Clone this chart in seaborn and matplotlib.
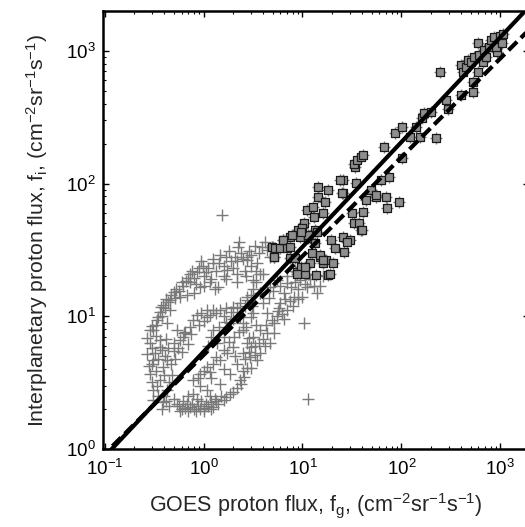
import numpy as np
import pandas as pd
import matplotlib
matplotlib.use("Agg")
import matplotlib.pyplot as plt
import seaborn as sns
from matplotlib.ticker import LogLocator, NullFormatter

# ---------------- data ----------------
# GOES flux (x) and interplanetary flux (y) for the low-flux '+' points
plus_goes = [
    # upper arm
    0.29, 0.31, 0.34, 0.36, 0.39, 0.43, 0.46, 0.46, 0.50, 0.54, 0.58, 0.63, 0.73, 0.73,
    0.93, 1.26, 1.41, 1.48, 1.73, 2.1, 2.2, 2.25, 2.75, 2.75, 3.5, 4.4, 3.2, 4.0,
    0.33, 0.38, 0.41, 0.44, 0.52, 0.56, 0.62, 0.66, 0.80, 0.86, 1.0, 1.1, 1.2, 1.35,
    1.6, 1.9, 2.4, 3.0, 3.6, 5.0, 0.68, 0.84, 1.15, 1.6, 2.0, 2.6, 3.0, 4.7,
    0.30, 0.35, 0.37, 0.42, 0.47, 0.53, 0.60, 0.70, 0.76, 0.90, 0.98, 1.05, 1.25, 1.45,
    1.7, 1.8, 2.2, 2.5, 2.9, 3.3, 3.9, 4.2, 2.3, 0.95, 0.80, 1.0, 1.3, 1.7, 2.2, 2.7, 3.4,
    # outliers
    1.54, 11.4, 10.3,
    # left column
    0.29, 0.36, 0.50, 0.31, 0.39, 0.29, 0.36, 0.31, 0.43, 0.31, 0.39, 0.36, 0.32, 0.28,
    0.34, 0.40, 0.45, 0.30, 0.33, 0.41, 0.47,
    0.27, 0.30, 0.33, 0.35, 0.38, 0.42, 0.44, 0.30, 0.27, 0.35, 0.40, 0.48, 0.52,
    # bottom
    0.45, 0.54, 0.60, 0.65, 0.73, 0.80, 0.88, 1.0, 1.1, 1.26, 1.4, 1.6, 1.86, 2.2,
    2.55, 2.75, 2.97, 0.50, 0.62, 0.70, 0.85, 0.95, 1.15, 1.3,
    0.38, 0.42, 0.57, 0.68, 0.76, 0.92, 1.05, 1.2, 1.35, 1.5, 1.7, 2.0, 2.4, 0.58,
    0.70, 0.84, 1.0, 1.18,
    # inner arc
    0.43, 0.50, 0.58, 0.65, 0.73, 0.79, 0.85, 0.95, 1.09, 1.09, 1.25, 1.48, 1.7, 2.0,
    2.35, 2.75, 2.75, 3.2, 3.75, 3.75, 0.55, 0.62,
    0.60, 0.70, 0.75, 0.90, 1.0, 1.15, 1.35, 1.6, 1.9, 2.2, 2.6, 3.0, 3.4,
    # middle band
    0.79, 0.93, 1.09, 1.26, 1.48, 1.73, 2.0, 1.26, 1.6, 1.86, 2.35, 1.37, 2.5, 2.5,
    3.0, 0.79, 1.09, 1.48, 1.86, 2.2, 2.5, 0.93, 1.2, 1.6, 2.1,
    0.88, 1.0, 1.15, 1.35, 1.6, 1.8, 2.05, 2.3, 2.7, 3.2, 1.1, 1.2, 1.45, 1.7, 2.0,
    # lower arm
    2.35, 2.5, 3.0, 3.5, 3.0, 3.75, 4.7, 2.75, 3.2, 3.75, 4.4, 5.1, 4.4, 6.0,
    7.0, 8.2, 7.0, 4.7, 5.5, 9.5, 11.0, 14.0, 3.75, 6.5, 5.5, 6.5, 8.0, 9.0,
    10.0, 12.0, 15.0, 16.0, 3.3, 4.0, 5.8,
    2.6, 2.9, 3.3, 3.6, 4.2, 4.3, 4.9, 5.2, 5.6, 6.2, 6.7, 7.5, 7.6, 8.5,
    9.0, 10.5, 11.5, 13.0, 3.1, 4.0, 4.6, 5.0, 6.0, 7.0, 8.5, 3.4, 2.9,
]
plus_ip = [
    # upper arm
    7.9, 7.9, 9.4, 10.8, 12.2, 8.9, 11.1, 13.3, 15.2, 7.9, 14.0, 7.5, 21.0, 18.0,
    16.5, 25.0, 16.5, 29.0, 22.3, 28.0, 21.0, 33.0, 26.5, 28.0, 25.0, 31.6, 18.8, 21.0,
    8.6, 10.0, 11.5, 12.8, 13.8, 15.5, 16.8, 18.5, 19.5, 21.5, 20.0, 23.0, 19.0, 22.0,
    24.0, 26.0, 30.0, 29.0, 30.0, 33.0, 14.5, 17.5, 18.0, 20.0, 23.0, 22.0, 24.0, 28.0,
    8.5, 9.8, 11.8, 13.5, 14.5, 16.0, 18.0, 19.5, 22.0, 23.0, 24.0, 21.5, 27.0, 25.0,
    28.0, 31.0, 26.0, 27.0, 31.0, 34.0, 33.0, 36.0, 36.0, 26.0, 15.0, 17.0, 16.0, 19.0, 18.0, 20.0, 22.0,
    # outliers
    58.0, 2.4, 8.9,
    # left column
    6.3, 5.9, 6.3, 4.7, 4.15, 3.7, 3.3, 2.8, 2.8, 2.34, 2.26, 6.6, 5.3, 4.2,
    3.0, 3.6, 3.2, 5.8, 7.1, 5.0, 4.4,
    5.2, 4.4, 3.9, 4.8, 5.6, 6.8, 5.8, 3.2, 6.9, 2.5, 2.5, 3.6, 4.8,
    # bottom
    2.1, 2.2, 2.0, 2.05, 2.07, 2.0, 2.1, 2.03, 2.1, 2.07, 2.2, 2.34, 2.6, 2.9,
    3.5, 4.1, 4.9, 2.4, 2.3, 2.5, 2.4, 2.3, 2.5, 2.4,
    2.0, 2.3, 2.1, 2.2, 2.2, 2.0, 2.2, 2.25, 2.3, 2.5, 2.45, 2.7, 3.1, 1.95,
    1.95, 1.95, 1.95, 2.0,
    # inner arc
    4.7, 5.5, 6.6, 7.6, 8.3, 9.4, 10.2, 10.6, 11.1, 9.9, 11.1, 11.1, 11.5, 11.7,
    12.6, 13.3, 14.0, 16.0, 15.0, 21.0, 5.8, 7.0,
    5.4, 6.2, 7.4, 8.6, 9.2, 10.3, 10.5, 10.0, 10.8, 11.5, 12.0, 14.5, 18.0,
    # middle band
    3.3, 3.7, 4.15, 4.4, 4.7, 5.3, 5.9, 7.9, 7.0, 8.9, 9.9, 6.3, 7.9, 8.9,
    9.9, 2.6, 2.8, 3.1, 3.7, 4.4, 5.3, 3.0, 3.4, 4.0, 5.0,
    3.4, 3.9, 3.8, 4.9, 5.6, 6.4, 7.0, 7.6, 8.3, 10.5, 6.0, 7.0, 8.3, 9.0, 9.5,
    # lower arm
    3.3, 3.9, 4.1, 4.7, 5.9, 5.3, 6.3, 6.3, 7.0, 7.9, 7.5, 8.9, 10.6, 12.6,
    11.1, 14.0, 17.7, 16.6, 18.8, 18.8, 16.6, 15.0, 15.0, 15.0, 10.0, 9.5, 12.0, 16.0,
    14.0, 19.0, 17.0, 20.0, 6.0, 6.8, 11.5,
    4.8, 5.4, 5.1, 6.3, 6.0, 8.6, 9.4, 7.5, 11.0, 10.4, 13.5, 13.0, 16.5, 18.0,
    13.5, 17.5, 21.0, 17.0, 12.0, 12.5, 13.8, 15.5, 17.0, 20.0, 22.0, 8.6, 6.9,
]

# high-flux points (drawn as squares, each also carrying a '+')
sq_goes = [
    4.95, 5.1, 5.3, 6.0, 6.4, 7.0, 7.5, 7.5, 8.9, 9.1, 9.5, 9.7, 10.3, 10.7,
    11.2, 11.5, 12.0, 12.6, 12.9, 13.5, 13.5, 13.8, 14.2, 14.5, 15.2, 16.3, 16.3, 17.0,
    17.5, 18.3, 18.3, 19.6, 20.6, 21.5, 26.0, 26.0, 26.0, 26.6, 30.6, 32.0, 33.0, 35.0,
    37.0, 38.7, 34.3, 33.0, 36.0, 38.7, 41.4, 41.4, 43.4, 48.8, 55.0, 61.6, 66.0, 70.0,
    72.0, 75.0, 86.0, 95.0, 102.0, 102.0, 123.0, 139.0, 156.0, 163.0, 168.0, 197.0, 222.0, 244.0,
    281.0, 293.0, 397.0, 397.0, 424.0, 446.0, 467.0, 500.0, 527.0, 527.0, 540.0, 592.0, 592.0, 605.0,
    665.0, 680.0, 716.0, 760.0, 800.0, 858.0, 935.0, 1000.0, 1070.0, 900.0, 1040.0,
    7.9, 6.3, 5.1, 7.5, 8.5, 28.5, 15.0, 16.3, 19.2, 10.7, 8.9, 13.0, 11.4, 10.0,
    9.6, 14.0, 40.0, 24.0, 25.0, 55.0,
]
sq_ip = [
    33.0, 28.0, 32.5, 32.5, 37.6, 32.5, 39.5, 27.5, 21.5, 44.7, 39.5, 23.4, 50.6, 21.0,
    63.0, 38.8, 25.0, 29.9, 66.0, 44.7, 35.4, 20.4, 94.5, 79.0, 28.0, 25.1, 60.0, 72.6,
    26.5, 89.5, 20.4, 37.6, 25.1, 32.5, 107.0, 85.0, 39.6, 30.5, 37.6, 60.0, 50.6, 101.0,
    50.6, 44.7, 133.0, 141.0, 151.0, 158.0, 164.0, 61.0, 75.0, 89.5, 79.0, 106.0, 189.0, 79.0,
    65.0, 112.0, 240.0, 72.6, 266.0, 155.0, 224.0, 266.0, 224.0, 312.0, 338.0, 346.0, 219.0, 693.0,
    427.0, 362.0, 464.0, 785.0, 693.0, 755.0, 850.0, 820.0, 580.0, 490.0, 900.0, 693.0, 1150.0, 930.0,
    820.0, 1015.0, 900.0, 1070.0, 1200.0, 1270.0, 980.0, 1300.0, 1330.0, 1070.0, 1150.0,
    41.0, 37.6, 28.0, 33.0, 27.5, 36.0, 29.0, 26.5, 21.0, 23.5, 21.0, 56.0, 41.0, 46.0,
    43.0, 43.0, 44.7, 106.0, 85.0, 82.0,
]

# fitted power laws  f_i = coef * f_g ** slope   (solid, dashed)
fit_names = ["solid", "dashed"]
fit_coef = [5.4, 5.1]
fit_slope = [0.79, 0.745]
fit_range = [0.09, 2500.0]

# ---------------- figure ----------------
sns.set_style("ticks")
plt.rcParams["font.family"] = ["Liberation Sans", "DejaVu Sans"]
plt.rcParams["mathtext.fontset"] = "custom"
plt.rcParams["mathtext.rm"] = "Liberation Sans"
plt.rcParams["mathtext.it"] = "Liberation Sans:italic"
plt.rcParams["mathtext.bf"] = "Liberation Sans:bold"
plt.rcParams["mathtext.sf"] = "Liberation Sans"
plt.rcParams["axes.unicode_minus"] = True

fig = plt.figure(figsize=(5.25, 5.27), dpi=100)
ax = fig.add_axes([103 / 525, 78 / 527, 426 / 525, 438 / 527])
ax.set_xscale("log")
ax.set_yscale("log")

df_plus = pd.DataFrame({"g": plus_goes + sq_goes, "i": plus_ip + sq_ip})
df_sq = pd.DataFrame({"g": sq_goes, "i": sq_ip})

sns.scatterplot(data=df_plus, x="g", y="i", marker="+", s=85, color="#7a7a7a",
                linewidth=1.0, ax=ax, zorder=2)
sns.scatterplot(data=df_sq, x="g", y="i", marker="s", s=40, color="#8e8e8e",
                edgecolor="#1a1a1a", linewidth=0.9, ax=ax, zorder=3)

rows = []
for name, c, p in zip(fit_names, fit_coef, fit_slope):
    for xv in fit_range:
        rows.append({"fit": name, "g": xv, "i": c * xv ** p})
df_fit = pd.DataFrame(rows)
sns.lineplot(data=df_fit[df_fit.fit == "solid"], x="g", y="i", color="black",
             linewidth=3.0, ax=ax, zorder=4)
sns.lineplot(data=df_fit[df_fit.fit == "dashed"], x="g", y="i", color="black",
             linewidth=3.0, linestyle=(0, (2.9, 1.3)), ax=ax, zorder=4)

ax.set_xlim(0.0964, 1950)
ax.set_ylim(1, 1995)

ax.xaxis.set_major_locator(LogLocator(base=10, numticks=10))
ax.yaxis.set_major_locator(LogLocator(base=10, numticks=10))
ax.xaxis.set_minor_locator(LogLocator(base=10, subs=np.arange(2, 10), numticks=20))
ax.yaxis.set_minor_locator(LogLocator(base=10, subs=np.arange(2, 10), numticks=20))
ax.xaxis.set_minor_formatter(NullFormatter())
ax.yaxis.set_minor_formatter(NullFormatter())

ax.tick_params(which="both", direction="in", top=True, right=True, colors="black",
               labelsize=13.5)
ax.tick_params(which="major", length=4, width=1.0)
ax.tick_params(axis="x", which="major", pad=7)
ax.tick_params(axis="y", which="major", pad=5)
ax.tick_params(which="minor", length=2, width=0.8)
for sp in ax.spines.values():
    sp.set_linewidth(1.8)
    sp.set_color("black")

ax.set_xlabel(r"GOES proton flux, f$_\mathrm{g}$, (cm$^{-2}$sr$^{-1}$s$^{-1}$)",
              fontsize=15.5, labelpad=9)
ax.set_ylabel(r"Interplanetary proton flux, f$_\mathrm{i}$, (cm$^{-2}$sr$^{-1}$s$^{-1}$)",
              fontsize=15.3, labelpad=12)
if ax.get_legend():
    ax.get_legend().remove()

fig.savefig("out.png", dpi=100)
